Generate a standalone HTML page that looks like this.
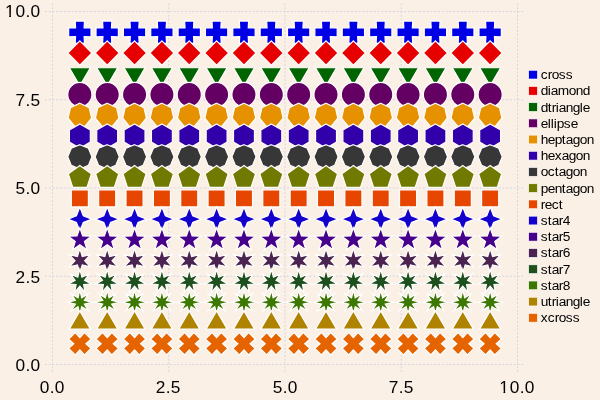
<!DOCTYPE html><html><head><meta charset="utf-8"><title>Supported markers</title><style>html,body{margin:0;padding:0;background:#FAF0E6;}body{width:600px;height:400px;overflow:hidden}svg{display:block;will-change:transform}text{font-family:"Liberation Sans",sans-serif;fill:#000}</style></head><body>
<svg width="600" height="400" viewBox="0 0 600 400">
<rect width="600" height="400" fill="#FAF0E6"/>
<g stroke="#D0D0E0" stroke-width="0.9" stroke-dasharray="1.89 1.89" fill="none">
<path d="M52.50 3.5V372.5"/>
<path d="M168.75 3.5V372.5"/>
<path d="M285.00 3.5V372.5"/>
<path d="M401.25 3.5V372.5"/>
<path d="M517.50 3.5V372.5"/>
<path d="M45 364.50H523.5"/>
<path d="M45 276.25H523.5"/>
<path d="M45 188.00H523.5"/>
<path d="M45 99.75H523.5"/>
<path d="M45 11.50H523.5"/>
</g>
<g font-size="17.3px">
<text x="39.8 49.8 54.8" y="393">0.0</text>
<text x="155.8 165.8 170.8" y="393">2.5</text>
<text x="272.7 282.7 287.7" y="393">5.0</text>
<text x="388.8 398.8 403.8" y="393">7.5</text>
<text x="499.2 509.8 519.8 524.8" y="393">10.0</text>
<path fill="#FAF0E6" d="M499.2 390.5h4.3v3h-4.3zM505.22 390.5h4v3h-4z"/>
<text x="15.5 25.5 30.5" y="371">0.0</text>
<text x="15.5 25.5 30.5" y="283">2.5</text>
<text x="15.5 25.5 30.5" y="194">5.0</text>
<text x="15.5 25.5 30.5" y="106">7.5</text>
<text x="4.9 15.5 25.5 30.5" y="17">10.0</text>
<path fill="#FAF0E6" d="M4.9 14.5h4.3v3h-4.3zM10.92 14.5h4v3h-4z"/>
</g>
<g fill="#0000E6" stroke="#ffffff" stroke-width="1.2" stroke-miterlimit="10">
<polygon points="84.48,21.09 84.13,27.99 91.03,27.63 91.03,36.90 84.13,36.54 84.48,43.44 75.22,43.44 75.57,36.54 68.67,36.90 68.67,27.63 75.57,27.99 75.22,21.09"/>
<polygon points="111.84,21.09 111.48,27.99 118.38,27.63 118.38,36.90 111.48,36.54 111.84,43.44 102.58,43.44 102.93,36.54 96.03,36.90 96.03,27.63 102.93,27.99 102.58,21.09"/>
<polygon points="139.19,21.09 138.84,27.99 145.74,27.63 145.74,36.90 138.84,36.54 139.19,43.44 129.93,43.44 130.28,36.54 123.38,36.90 123.38,27.63 130.28,27.99 129.93,21.09"/>
<polygon points="166.54,21.09 166.19,27.99 173.09,27.63 173.09,36.90 166.19,36.54 166.54,43.44 157.28,43.44 157.63,36.54 150.73,36.90 150.73,27.63 157.63,27.99 157.28,21.09"/>
<polygon points="193.90,21.09 193.54,27.99 200.44,27.63 200.44,36.90 193.54,36.54 193.90,43.44 184.63,43.44 184.99,36.54 178.09,36.90 178.09,27.63 184.99,27.99 184.63,21.09"/>
<polygon points="221.25,21.09 220.90,27.99 227.80,27.63 227.80,36.90 220.90,36.54 221.25,43.44 211.99,43.44 212.34,36.54 205.44,36.90 205.44,27.63 212.34,27.99 211.99,21.09"/>
<polygon points="248.60,21.09 248.25,27.99 255.15,27.63 255.15,36.90 248.25,36.54 248.60,43.44 239.34,43.44 239.69,36.54 232.79,36.90 232.79,27.63 239.69,27.99 239.34,21.09"/>
<polygon points="275.95,21.09 275.60,27.99 282.50,27.63 282.50,36.90 275.60,36.54 275.95,43.44 266.69,43.44 267.05,36.54 260.14,36.90 260.14,27.63 267.05,27.99 266.69,21.09"/>
<polygon points="303.31,21.09 302.95,27.99 309.86,27.63 309.86,36.90 302.95,36.54 303.31,43.44 294.05,43.44 294.40,36.54 287.50,36.90 287.50,27.63 294.40,27.99 294.05,21.09"/>
<polygon points="330.66,21.09 330.31,27.99 337.21,27.63 337.21,36.90 330.31,36.54 330.66,43.44 321.40,43.44 321.75,36.54 314.85,36.90 314.85,27.63 321.75,27.99 321.40,21.09"/>
<polygon points="358.01,21.09 357.66,27.99 364.56,27.63 364.56,36.90 357.66,36.54 358.01,43.44 348.75,43.44 349.10,36.54 342.20,36.90 342.20,27.63 349.10,27.99 348.75,21.09"/>
<polygon points="385.37,21.09 385.01,27.99 391.91,27.63 391.91,36.90 385.01,36.54 385.37,43.44 376.10,43.44 376.46,36.54 369.56,36.90 369.56,27.63 376.46,27.99 376.10,21.09"/>
<polygon points="412.72,21.09 412.37,27.99 419.27,27.63 419.27,36.90 412.37,36.54 412.72,43.44 403.46,43.44 403.81,36.54 396.91,36.90 396.91,27.63 403.81,27.99 403.46,21.09"/>
<polygon points="440.07,21.09 439.72,27.99 446.62,27.63 446.62,36.90 439.72,36.54 440.07,43.44 430.81,43.44 431.16,36.54 424.26,36.90 424.26,27.63 431.16,27.99 430.81,21.09"/>
<polygon points="467.42,21.09 467.07,27.99 473.97,27.63 473.97,36.90 467.07,36.54 467.42,43.44 458.16,43.44 458.52,36.54 451.62,36.90 451.62,27.63 458.52,27.99 458.16,21.09"/>
<polygon points="494.78,21.09 494.43,27.99 501.33,27.63 501.33,36.90 494.43,36.54 494.78,43.44 485.52,43.44 485.87,36.54 478.97,36.90 478.97,27.63 485.87,27.99 485.52,21.09"/>
</g>
<g fill="#E60000" stroke="#ffffff" stroke-width="1.2" stroke-miterlimit="10">
<polygon points="79.85,40.93 91.95,53.03 79.85,65.13 67.75,53.03"/>
<polygon points="107.21,40.93 119.31,53.03 107.21,65.13 95.11,53.03"/>
<polygon points="134.56,40.93 146.66,53.03 134.56,65.13 122.46,53.03"/>
<polygon points="161.91,40.93 174.01,53.03 161.91,65.13 149.81,53.03"/>
<polygon points="189.26,40.93 201.36,53.03 189.26,65.13 177.16,53.03"/>
<polygon points="216.62,40.93 228.72,53.03 216.62,65.13 204.52,53.03"/>
<polygon points="243.97,40.93 256.07,53.03 243.97,65.13 231.87,53.03"/>
<polygon points="271.32,40.93 283.42,53.03 271.32,65.13 259.22,53.03"/>
<polygon points="298.68,40.93 310.78,53.03 298.68,65.13 286.58,53.03"/>
<polygon points="326.03,40.93 338.13,53.03 326.03,65.13 313.93,53.03"/>
<polygon points="353.38,40.93 365.48,53.03 353.38,65.13 341.28,53.03"/>
<polygon points="380.74,40.93 392.84,53.03 380.74,65.13 368.64,53.03"/>
<polygon points="408.09,40.93 420.19,53.03 408.09,65.13 395.99,53.03"/>
<polygon points="435.44,40.93 447.54,53.03 435.44,65.13 423.34,53.03"/>
<polygon points="462.79,40.93 474.89,53.03 462.79,65.13 450.69,53.03"/>
<polygon points="490.15,40.93 502.25,53.03 490.15,65.13 478.05,53.03"/>
</g>
<g fill="#006400" stroke="#ffffff" stroke-width="1.2" stroke-miterlimit="10">
<polygon points="79.85,85.89 69.37,67.74 90.33,67.74"/>
<polygon points="107.21,85.89 96.73,67.74 117.68,67.74"/>
<polygon points="134.56,85.89 124.08,67.74 145.04,67.74"/>
<polygon points="161.91,85.89 151.43,67.74 172.39,67.74"/>
<polygon points="189.26,85.89 178.79,67.74 199.74,67.74"/>
<polygon points="216.62,85.89 206.14,67.74 227.10,67.74"/>
<polygon points="243.97,85.89 233.49,67.74 254.45,67.74"/>
<polygon points="271.32,85.89 260.84,67.74 281.80,67.74"/>
<polygon points="298.68,85.89 288.20,67.74 309.16,67.74"/>
<polygon points="326.03,85.89 315.55,67.74 336.51,67.74"/>
<polygon points="353.38,85.89 342.90,67.74 363.86,67.74"/>
<polygon points="380.74,85.89 370.26,67.74 391.21,67.74"/>
<polygon points="408.09,85.89 397.61,67.74 418.57,67.74"/>
<polygon points="435.44,85.89 424.96,67.74 445.92,67.74"/>
<polygon points="462.79,85.89 452.32,67.74 473.27,67.74"/>
<polygon points="490.15,85.89 479.67,67.74 500.63,67.74"/>
</g>
<g fill="#640064" stroke="#ffffff" stroke-width="1.2" stroke-miterlimit="10">
<circle cx="79.85" cy="94.56" r="12.1"/>
<circle cx="107.21" cy="94.56" r="12.1"/>
<circle cx="134.56" cy="94.56" r="12.1"/>
<circle cx="161.91" cy="94.56" r="12.1"/>
<circle cx="189.26" cy="94.56" r="12.1"/>
<circle cx="216.62" cy="94.56" r="12.1"/>
<circle cx="243.97" cy="94.56" r="12.1"/>
<circle cx="271.32" cy="94.56" r="12.1"/>
<circle cx="298.68" cy="94.56" r="12.1"/>
<circle cx="326.03" cy="94.56" r="12.1"/>
<circle cx="353.38" cy="94.56" r="12.1"/>
<circle cx="380.74" cy="94.56" r="12.1"/>
<circle cx="408.09" cy="94.56" r="12.1"/>
<circle cx="435.44" cy="94.56" r="12.1"/>
<circle cx="462.79" cy="94.56" r="12.1"/>
<circle cx="490.15" cy="94.56" r="12.1"/>
</g>
<g fill="#E69100" stroke="#ffffff" stroke-width="1.2" stroke-miterlimit="10">
<polygon points="79.85,103.22 89.31,107.78 91.65,118.02 85.10,126.23 74.60,126.23 68.06,118.02 70.39,107.78"/>
<polygon points="107.21,103.22 116.67,107.78 119.00,118.02 112.46,126.23 101.96,126.23 95.41,118.02 97.75,107.78"/>
<polygon points="134.56,103.22 144.02,107.78 146.36,118.02 139.81,126.23 129.31,126.23 122.76,118.02 125.10,107.78"/>
<polygon points="161.91,103.22 171.37,107.78 173.71,118.02 167.16,126.23 156.66,126.23 150.12,118.02 152.45,107.78"/>
<polygon points="189.26,103.22 198.72,107.78 201.06,118.02 194.51,126.23 184.01,126.23 177.47,118.02 179.80,107.78"/>
<polygon points="216.62,103.22 226.08,107.78 228.41,118.02 221.87,126.23 211.37,126.23 204.82,118.02 207.16,107.78"/>
<polygon points="243.97,103.22 253.43,107.78 255.77,118.02 249.22,126.23 238.72,126.23 232.17,118.02 234.51,107.78"/>
<polygon points="271.32,103.22 280.78,107.78 283.12,118.02 276.57,126.23 266.07,126.23 259.53,118.02 261.86,107.78"/>
<polygon points="298.68,103.22 308.14,107.78 310.47,118.02 303.93,126.23 293.43,126.23 286.88,118.02 289.22,107.78"/>
<polygon points="326.03,103.22 335.49,107.78 337.83,118.02 331.28,126.23 320.78,126.23 314.23,118.02 316.57,107.78"/>
<polygon points="353.38,103.22 362.84,107.78 365.18,118.02 358.63,126.23 348.13,126.23 341.59,118.02 343.92,107.78"/>
<polygon points="380.74,103.22 390.20,107.78 392.53,118.02 385.99,126.23 375.49,126.23 368.94,118.02 371.28,107.78"/>
<polygon points="408.09,103.22 417.55,107.78 419.88,118.02 413.34,126.23 402.84,126.23 396.29,118.02 398.63,107.78"/>
<polygon points="435.44,103.22 444.90,107.78 447.24,118.02 440.69,126.23 430.19,126.23 423.64,118.02 425.98,107.78"/>
<polygon points="462.79,103.22 472.25,107.78 474.59,118.02 468.04,126.23 457.54,126.23 451.00,118.02 453.33,107.78"/>
<polygon points="490.15,103.22 499.61,107.78 501.94,118.02 495.40,126.23 484.90,126.23 478.35,118.02 480.69,107.78"/>
</g>
<g fill="#3200AA" stroke="#ffffff" stroke-width="1.2" stroke-miterlimit="10">
<polygon points="79.85,123.99 90.33,130.04 90.33,142.14 79.85,148.19 69.37,142.14 69.37,130.04"/>
<polygon points="107.21,123.99 117.68,130.04 117.68,142.14 107.21,148.19 96.73,142.14 96.73,130.04"/>
<polygon points="134.56,123.99 145.04,130.04 145.04,142.14 134.56,148.19 124.08,142.14 124.08,130.04"/>
<polygon points="161.91,123.99 172.39,130.04 172.39,142.14 161.91,148.19 151.43,142.14 151.43,130.04"/>
<polygon points="189.26,123.99 199.74,130.04 199.74,142.14 189.26,148.19 178.79,142.14 178.79,130.04"/>
<polygon points="216.62,123.99 227.10,130.04 227.10,142.14 216.62,148.19 206.14,142.14 206.14,130.04"/>
<polygon points="243.97,123.99 254.45,130.04 254.45,142.14 243.97,148.19 233.49,142.14 233.49,130.04"/>
<polygon points="271.32,123.99 281.80,130.04 281.80,142.14 271.32,148.19 260.84,142.14 260.84,130.04"/>
<polygon points="298.68,123.99 309.16,130.04 309.16,142.14 298.68,148.19 288.20,142.14 288.20,130.04"/>
<polygon points="326.03,123.99 336.51,130.04 336.51,142.14 326.03,148.19 315.55,142.14 315.55,130.04"/>
<polygon points="353.38,123.99 363.86,130.04 363.86,142.14 353.38,148.19 342.90,142.14 342.90,130.04"/>
<polygon points="380.74,123.99 391.21,130.04 391.21,142.14 380.74,148.19 370.26,142.14 370.26,130.04"/>
<polygon points="408.09,123.99 418.57,130.04 418.57,142.14 408.09,148.19 397.61,142.14 397.61,130.04"/>
<polygon points="435.44,123.99 445.92,130.04 445.92,142.14 435.44,148.19 424.96,142.14 424.96,130.04"/>
<polygon points="462.79,123.99 473.27,130.04 473.27,142.14 462.79,148.19 452.32,142.14 452.32,130.04"/>
<polygon points="490.15,123.99 500.63,130.04 500.63,142.14 490.15,148.19 479.67,142.14 479.67,130.04"/>
</g>
<g fill="#373737" stroke="#ffffff" stroke-width="1.2" stroke-miterlimit="10">
<polygon points="79.85,144.75 88.41,148.30 91.95,156.85 88.41,165.41 79.85,168.95 71.30,165.41 67.75,156.85 71.30,148.30"/>
<polygon points="107.21,144.75 115.76,148.30 119.31,156.85 115.76,165.41 107.21,168.95 98.65,165.41 95.11,156.85 98.65,148.30"/>
<polygon points="134.56,144.75 143.11,148.30 146.66,156.85 143.11,165.41 134.56,168.95 126.00,165.41 122.46,156.85 126.00,148.30"/>
<polygon points="161.91,144.75 170.47,148.30 174.01,156.85 170.47,165.41 161.91,168.95 153.36,165.41 149.81,156.85 153.36,148.30"/>
<polygon points="189.26,144.75 197.82,148.30 201.36,156.85 197.82,165.41 189.26,168.95 180.71,165.41 177.16,156.85 180.71,148.30"/>
<polygon points="216.62,144.75 225.17,148.30 228.72,156.85 225.17,165.41 216.62,168.95 208.06,165.41 204.52,156.85 208.06,148.30"/>
<polygon points="243.97,144.75 252.53,148.30 256.07,156.85 252.53,165.41 243.97,168.95 235.41,165.41 231.87,156.85 235.41,148.30"/>
<polygon points="271.32,144.75 279.88,148.30 283.42,156.85 279.88,165.41 271.32,168.95 262.77,165.41 259.22,156.85 262.77,148.30"/>
<polygon points="298.68,144.75 307.23,148.30 310.78,156.85 307.23,165.41 298.68,168.95 290.12,165.41 286.58,156.85 290.12,148.30"/>
<polygon points="326.03,144.75 334.59,148.30 338.13,156.85 334.59,165.41 326.03,168.95 317.47,165.41 313.93,156.85 317.47,148.30"/>
<polygon points="353.38,144.75 361.94,148.30 365.48,156.85 361.94,165.41 353.38,168.95 344.83,165.41 341.28,156.85 344.83,148.30"/>
<polygon points="380.74,144.75 389.29,148.30 392.84,156.85 389.29,165.41 380.74,168.95 372.18,165.41 368.64,156.85 372.18,148.30"/>
<polygon points="408.09,144.75 416.64,148.30 420.19,156.85 416.64,165.41 408.09,168.95 399.53,165.41 395.99,156.85 399.53,148.30"/>
<polygon points="435.44,144.75 444.00,148.30 447.54,156.85 444.00,165.41 435.44,168.95 426.89,165.41 423.34,156.85 426.89,148.30"/>
<polygon points="462.79,144.75 471.35,148.30 474.89,156.85 471.35,165.41 462.79,168.95 454.24,165.41 450.69,156.85 454.24,148.30"/>
<polygon points="490.15,144.75 498.70,148.30 502.25,156.85 498.70,165.41 490.15,168.95 481.59,165.41 478.05,156.85 481.59,148.30"/>
</g>
<g fill="#707A00" stroke="#ffffff" stroke-width="1.2" stroke-miterlimit="10">
<polygon points="79.85,165.52 91.36,173.88 86.97,187.41 72.74,187.41 68.35,173.88"/>
<polygon points="107.21,165.52 118.71,173.88 114.32,187.41 100.09,187.41 95.70,173.88"/>
<polygon points="134.56,165.52 146.07,173.88 141.67,187.41 127.45,187.41 123.05,173.88"/>
<polygon points="161.91,165.52 173.42,173.88 169.02,187.41 154.80,187.41 150.40,173.88"/>
<polygon points="189.26,165.52 200.77,173.88 196.38,187.41 182.15,187.41 177.76,173.88"/>
<polygon points="216.62,165.52 228.13,173.88 223.73,187.41 209.51,187.41 205.11,173.88"/>
<polygon points="243.97,165.52 255.48,173.88 251.08,187.41 236.86,187.41 232.46,173.88"/>
<polygon points="271.32,165.52 282.83,173.88 278.44,187.41 264.21,187.41 259.82,173.88"/>
<polygon points="298.68,165.52 310.18,173.88 305.79,187.41 291.56,187.41 287.17,173.88"/>
<polygon points="326.03,165.52 337.54,173.88 333.14,187.41 318.92,187.41 314.52,173.88"/>
<polygon points="353.38,165.52 364.89,173.88 360.49,187.41 346.27,187.41 341.87,173.88"/>
<polygon points="380.74,165.52 392.24,173.88 387.85,187.41 373.62,187.41 369.23,173.88"/>
<polygon points="408.09,165.52 419.60,173.88 415.20,187.41 400.98,187.41 396.58,173.88"/>
<polygon points="435.44,165.52 446.95,173.88 442.55,187.41 428.33,187.41 423.93,173.88"/>
<polygon points="462.79,165.52 474.30,173.88 469.91,187.41 455.68,187.41 451.29,173.88"/>
<polygon points="490.15,165.52 501.65,173.88 497.26,187.41 483.03,187.41 478.64,173.88"/>
</g>
<g fill="#E64600" stroke="#ffffff" stroke-width="1.2" stroke-miterlimit="10">
<polygon points="88.41,189.83 88.41,206.94 71.30,206.94 71.30,189.83"/>
<polygon points="115.76,189.83 115.76,206.94 98.65,206.94 98.65,189.83"/>
<polygon points="143.11,189.83 143.11,206.94 126.00,206.94 126.00,189.83"/>
<polygon points="170.47,189.83 170.47,206.94 153.36,206.94 153.36,189.83"/>
<polygon points="197.82,189.83 197.82,206.94 180.71,206.94 180.71,189.83"/>
<polygon points="225.17,189.83 225.17,206.94 208.06,206.94 208.06,189.83"/>
<polygon points="252.53,189.83 252.53,206.94 235.41,206.94 235.41,189.83"/>
<polygon points="279.88,189.83 279.88,206.94 262.77,206.94 262.77,189.83"/>
<polygon points="307.23,189.83 307.23,206.94 290.12,206.94 290.12,189.83"/>
<polygon points="334.59,189.83 334.59,206.94 317.47,206.94 317.47,189.83"/>
<polygon points="361.94,189.83 361.94,206.94 344.83,206.94 344.83,189.83"/>
<polygon points="389.29,189.83 389.29,206.94 372.18,206.94 372.18,189.83"/>
<polygon points="416.64,189.83 416.64,206.94 399.53,206.94 399.53,189.83"/>
<polygon points="444.00,189.83 444.00,206.94 426.89,206.94 426.89,189.83"/>
<polygon points="471.35,189.83 471.35,206.94 454.24,206.94 454.24,189.83"/>
<polygon points="498.70,189.83 498.70,206.94 481.59,206.94 481.59,189.83"/>
</g>
<g fill="#1400CD" stroke="#ffffff" stroke-width="1.2" stroke-miterlimit="10">
<polygon points="79.85,207.05 83.28,215.72 91.95,219.15 83.28,222.57 79.85,231.25 76.43,222.57 67.75,219.15 76.43,215.72"/>
<polygon points="107.21,207.05 110.63,215.72 119.31,219.15 110.63,222.57 107.21,231.25 103.78,222.57 95.11,219.15 103.78,215.72"/>
<polygon points="134.56,207.05 137.98,215.72 146.66,219.15 137.98,222.57 134.56,231.25 131.14,222.57 122.46,219.15 131.14,215.72"/>
<polygon points="161.91,207.05 165.33,215.72 174.01,219.15 165.33,222.57 161.91,231.25 158.49,222.57 149.81,219.15 158.49,215.72"/>
<polygon points="189.26,207.05 192.69,215.72 201.36,219.15 192.69,222.57 189.26,231.25 185.84,222.57 177.16,219.15 185.84,215.72"/>
<polygon points="216.62,207.05 220.04,215.72 228.72,219.15 220.04,222.57 216.62,231.25 213.20,222.57 204.52,219.15 213.20,215.72"/>
<polygon points="243.97,207.05 247.39,215.72 256.07,219.15 247.39,222.57 243.97,231.25 240.55,222.57 231.87,219.15 240.55,215.72"/>
<polygon points="271.32,207.05 274.75,215.72 283.42,219.15 274.75,222.57 271.32,231.25 267.90,222.57 259.22,219.15 267.90,215.72"/>
<polygon points="298.68,207.05 302.10,215.72 310.78,219.15 302.10,222.57 298.68,231.25 295.25,222.57 286.58,219.15 295.25,215.72"/>
<polygon points="326.03,207.05 329.45,215.72 338.13,219.15 329.45,222.57 326.03,231.25 322.61,222.57 313.93,219.15 322.61,215.72"/>
<polygon points="353.38,207.05 356.80,215.72 365.48,219.15 356.80,222.57 353.38,231.25 349.96,222.57 341.28,219.15 349.96,215.72"/>
<polygon points="380.74,207.05 384.16,215.72 392.84,219.15 384.16,222.57 380.74,231.25 377.31,222.57 368.64,219.15 377.31,215.72"/>
<polygon points="408.09,207.05 411.51,215.72 420.19,219.15 411.51,222.57 408.09,231.25 404.67,222.57 395.99,219.15 404.67,215.72"/>
<polygon points="435.44,207.05 438.86,215.72 447.54,219.15 438.86,222.57 435.44,231.25 432.02,222.57 423.34,219.15 432.02,215.72"/>
<polygon points="462.79,207.05 466.22,215.72 474.89,219.15 466.22,222.57 462.79,231.25 459.37,222.57 450.69,219.15 459.37,215.72"/>
<polygon points="490.15,207.05 493.57,215.72 502.25,219.15 493.57,222.57 490.15,231.25 486.72,222.57 478.05,219.15 486.72,215.72"/>
</g>
<g fill="#46008C" stroke="#ffffff" stroke-width="1.2" stroke-miterlimit="10">
<polygon points="79.85,227.81 82.70,236.00 91.36,236.17 84.46,241.41 86.97,249.70 79.85,244.75 72.74,249.70 75.25,241.41 68.35,236.17 77.01,236.00"/>
<polygon points="107.21,227.81 110.05,236.00 118.71,236.17 111.81,241.41 114.32,249.70 107.21,244.75 100.09,249.70 102.60,241.41 95.70,236.17 104.36,236.00"/>
<polygon points="134.56,227.81 137.40,236.00 146.07,236.17 139.16,241.41 141.67,249.70 134.56,244.75 127.45,249.70 129.96,241.41 123.05,236.17 131.71,236.00"/>
<polygon points="161.91,227.81 164.76,236.00 173.42,236.17 166.51,241.41 169.02,249.70 161.91,244.75 154.80,249.70 157.31,241.41 150.40,236.17 159.07,236.00"/>
<polygon points="189.26,227.81 192.11,236.00 200.77,236.17 193.87,241.41 196.38,249.70 189.26,244.75 182.15,249.70 184.66,241.41 177.76,236.17 186.42,236.00"/>
<polygon points="216.62,227.81 219.46,236.00 228.13,236.17 221.22,241.41 223.73,249.70 216.62,244.75 209.51,249.70 212.01,241.41 205.11,236.17 213.77,236.00"/>
<polygon points="243.97,227.81 246.82,236.00 255.48,236.17 248.57,241.41 251.08,249.70 243.97,244.75 236.86,249.70 239.37,241.41 232.46,236.17 241.13,236.00"/>
<polygon points="271.32,227.81 274.17,236.00 282.83,236.17 275.93,241.41 278.44,249.70 271.32,244.75 264.21,249.70 266.72,241.41 259.82,236.17 268.48,236.00"/>
<polygon points="298.68,227.81 301.52,236.00 310.18,236.17 303.28,241.41 305.79,249.70 298.68,244.75 291.56,249.70 294.07,241.41 287.17,236.17 295.83,236.00"/>
<polygon points="326.03,227.81 328.87,236.00 337.54,236.17 330.63,241.41 333.14,249.70 326.03,244.75 318.92,249.70 321.43,241.41 314.52,236.17 323.18,236.00"/>
<polygon points="353.38,227.81 356.23,236.00 364.89,236.17 357.99,241.41 360.49,249.70 353.38,244.75 346.27,249.70 348.78,241.41 341.87,236.17 350.54,236.00"/>
<polygon points="380.74,227.81 383.58,236.00 392.24,236.17 385.34,241.41 387.85,249.70 380.74,244.75 373.62,249.70 376.13,241.41 369.23,236.17 377.89,236.00"/>
<polygon points="408.09,227.81 410.93,236.00 419.60,236.17 412.69,241.41 415.20,249.70 408.09,244.75 400.98,249.70 403.49,241.41 396.58,236.17 405.24,236.00"/>
<polygon points="435.44,227.81 438.29,236.00 446.95,236.17 440.04,241.41 442.55,249.70 435.44,244.75 428.33,249.70 430.84,241.41 423.93,236.17 432.60,236.00"/>
<polygon points="462.79,227.81 465.64,236.00 474.30,236.17 467.40,241.41 469.91,249.70 462.79,244.75 455.68,249.70 458.19,241.41 451.29,236.17 459.95,236.00"/>
<polygon points="490.15,227.81 492.99,236.00 501.65,236.17 494.75,241.41 497.26,249.70 490.15,244.75 483.03,249.70 485.54,241.41 478.64,236.17 487.30,236.00"/>
</g>
<g fill="#4B2350" stroke="#ffffff" stroke-width="1.2" stroke-miterlimit="10">
<polygon points="79.85,248.58 82.27,256.48 90.33,254.63 84.69,260.68 90.33,266.73 82.27,264.87 79.85,272.78 77.43,264.87 69.37,266.73 75.01,260.68 69.37,254.63 77.43,256.48"/>
<polygon points="107.21,248.58 109.63,256.48 117.68,254.63 112.05,260.68 117.68,266.73 109.63,264.87 107.21,272.78 104.79,264.87 96.73,266.73 102.37,260.68 96.73,254.63 104.79,256.48"/>
<polygon points="134.56,248.58 136.98,256.48 145.04,254.63 139.40,260.68 145.04,266.73 136.98,264.87 134.56,272.78 132.14,264.87 124.08,266.73 129.72,260.68 124.08,254.63 132.14,256.48"/>
<polygon points="161.91,248.58 164.33,256.48 172.39,254.63 166.75,260.68 172.39,266.73 164.33,264.87 161.91,272.78 159.49,264.87 151.43,266.73 157.07,260.68 151.43,254.63 159.49,256.48"/>
<polygon points="189.26,248.58 191.68,256.48 199.74,254.63 194.10,260.68 199.74,266.73 191.68,264.87 189.26,272.78 186.84,264.87 178.79,266.73 184.42,260.68 178.79,254.63 186.84,256.48"/>
<polygon points="216.62,248.58 219.04,256.48 227.10,254.63 221.46,260.68 227.10,266.73 219.04,264.87 216.62,272.78 214.20,264.87 206.14,266.73 211.78,260.68 206.14,254.63 214.20,256.48"/>
<polygon points="243.97,248.58 246.39,256.48 254.45,254.63 248.81,260.68 254.45,266.73 246.39,264.87 243.97,272.78 241.55,264.87 233.49,266.73 239.13,260.68 233.49,254.63 241.55,256.48"/>
<polygon points="271.32,248.58 273.74,256.48 281.80,254.63 276.16,260.68 281.80,266.73 273.74,264.87 271.32,272.78 268.90,264.87 260.84,266.73 266.48,260.68 260.84,254.63 268.90,256.48"/>
<polygon points="298.68,248.58 301.10,256.48 309.16,254.63 303.52,260.68 309.16,266.73 301.10,264.87 298.68,272.78 296.26,264.87 288.20,266.73 293.84,260.68 288.20,254.63 296.26,256.48"/>
<polygon points="326.03,248.58 328.45,256.48 336.51,254.63 330.87,260.68 336.51,266.73 328.45,264.87 326.03,272.78 323.61,264.87 315.55,266.73 321.19,260.68 315.55,254.63 323.61,256.48"/>
<polygon points="353.38,248.58 355.80,256.48 363.86,254.63 358.22,260.68 363.86,266.73 355.80,264.87 353.38,272.78 350.96,264.87 342.90,266.73 348.54,260.68 342.90,254.63 350.96,256.48"/>
<polygon points="380.74,248.58 383.16,256.48 391.21,254.63 385.58,260.68 391.21,266.73 383.16,264.87 380.74,272.78 378.32,264.87 370.26,266.73 375.90,260.68 370.26,254.63 378.32,256.48"/>
<polygon points="408.09,248.58 410.51,256.48 418.57,254.63 412.93,260.68 418.57,266.73 410.51,264.87 408.09,272.78 405.67,264.87 397.61,266.73 403.25,260.68 397.61,254.63 405.67,256.48"/>
<polygon points="435.44,248.58 437.86,256.48 445.92,254.63 440.28,260.68 445.92,266.73 437.86,264.87 435.44,272.78 433.02,264.87 424.96,266.73 430.60,260.68 424.96,254.63 433.02,256.48"/>
<polygon points="462.79,248.58 465.21,256.48 473.27,254.63 467.63,260.68 473.27,266.73 465.21,264.87 462.79,272.78 460.37,264.87 452.32,266.73 457.95,260.68 452.32,254.63 460.37,256.48"/>
<polygon points="490.15,248.58 492.57,256.48 500.63,254.63 494.99,260.68 500.63,266.73 492.57,264.87 490.15,272.78 487.73,264.87 479.67,266.73 485.31,260.68 479.67,254.63 487.73,256.48"/>
</g>
<g fill="#1E501E" stroke="#ffffff" stroke-width="1.2" stroke-miterlimit="10">
<polygon points="79.85,269.34 81.95,277.08 89.31,273.90 84.57,280.36 91.65,284.13 83.64,284.46 85.10,292.34 79.85,286.28 74.60,292.34 76.07,284.46 68.06,284.13 75.13,280.36 70.39,273.90 77.75,277.08"/>
<polygon points="107.21,269.34 109.31,277.08 116.67,273.90 111.92,280.36 119.00,284.13 110.99,284.46 112.46,292.34 107.21,286.28 101.96,292.34 103.42,284.46 95.41,284.13 102.49,280.36 97.75,273.90 105.11,277.08"/>
<polygon points="134.56,269.34 136.66,277.08 144.02,273.90 139.28,280.36 146.36,284.13 138.34,284.46 139.81,292.34 134.56,286.28 129.31,292.34 130.77,284.46 122.76,284.13 129.84,280.36 125.10,273.90 132.46,277.08"/>
<polygon points="161.91,269.34 164.01,277.08 171.37,273.90 166.63,280.36 173.71,284.13 165.70,284.46 167.16,292.34 161.91,286.28 156.66,292.34 158.13,284.46 150.12,284.13 157.19,280.36 152.45,273.90 159.81,277.08"/>
<polygon points="189.26,269.34 191.36,277.08 198.72,273.90 193.98,280.36 201.06,284.13 193.05,284.46 194.51,292.34 189.26,286.28 184.01,292.34 185.48,284.46 177.47,284.13 184.55,280.36 179.80,273.90 187.16,277.08"/>
<polygon points="216.62,269.34 218.72,277.08 226.08,273.90 221.34,280.36 228.41,284.13 220.40,284.46 221.87,292.34 216.62,286.28 211.37,292.34 212.83,284.46 204.82,284.13 211.90,280.36 207.16,273.90 214.52,277.08"/>
<polygon points="243.97,269.34 246.07,277.08 253.43,273.90 248.69,280.36 255.77,284.13 247.75,284.46 249.22,292.34 243.97,286.28 238.72,292.34 240.19,284.46 232.17,284.13 239.25,280.36 234.51,273.90 241.87,277.08"/>
<polygon points="271.32,269.34 273.42,277.08 280.78,273.90 276.04,280.36 283.12,284.13 275.11,284.46 276.57,292.34 271.32,286.28 266.07,292.34 267.54,284.46 259.53,284.13 266.60,280.36 261.86,273.90 269.22,277.08"/>
<polygon points="298.68,269.34 300.78,277.08 308.14,273.90 303.40,280.36 310.47,284.13 302.46,284.46 303.93,292.34 298.68,286.28 293.43,292.34 294.89,284.46 286.88,284.13 293.96,280.36 289.22,273.90 296.58,277.08"/>
<polygon points="326.03,269.34 328.13,277.08 335.49,273.90 330.75,280.36 337.83,284.13 329.81,284.46 331.28,292.34 326.03,286.28 320.78,292.34 322.25,284.46 314.23,284.13 321.31,280.36 316.57,273.90 323.93,277.08"/>
<polygon points="353.38,269.34 355.48,277.08 362.84,273.90 358.10,280.36 365.18,284.13 357.17,284.46 358.63,292.34 353.38,286.28 348.13,292.34 349.60,284.46 341.59,284.13 348.66,280.36 343.92,273.90 351.28,277.08"/>
<polygon points="380.74,269.34 382.84,277.08 390.20,273.90 385.45,280.36 392.53,284.13 384.52,284.46 385.99,292.34 380.74,286.28 375.49,292.34 376.95,284.46 368.94,284.13 376.02,280.36 371.28,273.90 378.64,277.08"/>
<polygon points="408.09,269.34 410.19,277.08 417.55,273.90 412.81,280.36 419.88,284.13 411.87,284.46 413.34,292.34 408.09,286.28 402.84,292.34 404.30,284.46 396.29,284.13 403.37,280.36 398.63,273.90 405.99,277.08"/>
<polygon points="435.44,269.34 437.54,277.08 444.90,273.90 440.16,280.36 447.24,284.13 439.23,284.46 440.69,292.34 435.44,286.28 430.19,292.34 431.66,284.46 423.64,284.13 430.72,280.36 425.98,273.90 433.34,277.08"/>
<polygon points="462.79,269.34 464.89,277.08 472.25,273.90 467.51,280.36 474.59,284.13 466.58,284.46 468.04,292.34 462.79,286.28 457.54,292.34 459.01,284.46 451.00,284.13 458.08,280.36 453.33,273.90 460.69,277.08"/>
<polygon points="490.15,269.34 492.25,277.08 499.61,273.90 494.87,280.36 501.94,284.13 493.93,284.46 495.40,292.34 490.15,286.28 484.90,292.34 486.36,284.46 478.35,284.13 485.43,280.36 480.69,273.90 488.05,277.08"/>
</g>
<g fill="#3C7800" stroke="#ffffff" stroke-width="1.2" stroke-miterlimit="10">
<polygon points="79.85,290.11 81.71,297.73 88.41,293.65 84.32,300.35 91.95,302.21 84.32,304.06 88.41,310.76 81.71,306.68 79.85,314.31 78.00,306.68 71.30,310.76 75.38,304.06 67.75,302.21 75.38,300.35 71.30,293.65 78.00,297.73"/>
<polygon points="107.21,290.11 109.06,297.73 115.76,293.65 111.68,300.35 119.31,302.21 111.68,304.06 115.76,310.76 109.06,306.68 107.21,314.31 105.35,306.68 98.65,310.76 102.73,304.06 95.11,302.21 102.73,300.35 98.65,293.65 105.35,297.73"/>
<polygon points="134.56,290.11 136.41,297.73 143.11,293.65 139.03,300.35 146.66,302.21 139.03,304.06 143.11,310.76 136.41,306.68 134.56,314.31 132.71,306.68 126.00,310.76 130.09,304.06 122.46,302.21 130.09,300.35 126.00,293.65 132.71,297.73"/>
<polygon points="161.91,290.11 163.76,297.73 170.47,293.65 166.38,300.35 174.01,302.21 166.38,304.06 170.47,310.76 163.76,306.68 161.91,314.31 160.06,306.68 153.36,310.76 157.44,304.06 149.81,302.21 157.44,300.35 153.36,293.65 160.06,297.73"/>
<polygon points="189.26,290.11 191.12,297.73 197.82,293.65 193.74,300.35 201.36,302.21 193.74,304.06 197.82,310.76 191.12,306.68 189.26,314.31 187.41,306.68 180.71,310.76 184.79,304.06 177.16,302.21 184.79,300.35 180.71,293.65 187.41,297.73"/>
<polygon points="216.62,290.11 218.47,297.73 225.17,293.65 221.09,300.35 228.72,302.21 221.09,304.06 225.17,310.76 218.47,306.68 216.62,314.31 214.77,306.68 208.06,310.76 212.15,304.06 204.52,302.21 212.15,300.35 208.06,293.65 214.77,297.73"/>
<polygon points="243.97,290.11 245.82,297.73 252.53,293.65 248.44,300.35 256.07,302.21 248.44,304.06 252.53,310.76 245.82,306.68 243.97,314.31 242.12,306.68 235.41,310.76 239.50,304.06 231.87,302.21 239.50,300.35 235.41,293.65 242.12,297.73"/>
<polygon points="271.32,290.11 273.18,297.73 279.88,293.65 275.80,300.35 283.42,302.21 275.80,304.06 279.88,310.76 273.18,306.68 271.32,314.31 269.47,306.68 262.77,310.76 266.85,304.06 259.22,302.21 266.85,300.35 262.77,293.65 269.47,297.73"/>
<polygon points="298.68,290.11 300.53,297.73 307.23,293.65 303.15,300.35 310.78,302.21 303.15,304.06 307.23,310.76 300.53,306.68 298.68,314.31 296.82,306.68 290.12,310.76 294.20,304.06 286.58,302.21 294.20,300.35 290.12,293.65 296.82,297.73"/>
<polygon points="326.03,290.11 327.88,297.73 334.59,293.65 330.50,300.35 338.13,302.21 330.50,304.06 334.59,310.76 327.88,306.68 326.03,314.31 324.18,306.68 317.47,310.76 321.56,304.06 313.93,302.21 321.56,300.35 317.47,293.65 324.18,297.73"/>
<polygon points="353.38,290.11 355.23,297.73 361.94,293.65 357.85,300.35 365.48,302.21 357.85,304.06 361.94,310.76 355.23,306.68 353.38,314.31 351.53,306.68 344.83,310.76 348.91,304.06 341.28,302.21 348.91,300.35 344.83,293.65 351.53,297.73"/>
<polygon points="380.74,290.11 382.59,297.73 389.29,293.65 385.21,300.35 392.84,302.21 385.21,304.06 389.29,310.76 382.59,306.68 380.74,314.31 378.88,306.68 372.18,310.76 376.26,304.06 368.64,302.21 376.26,300.35 372.18,293.65 378.88,297.73"/>
<polygon points="408.09,290.11 409.94,297.73 416.64,293.65 412.56,300.35 420.19,302.21 412.56,304.06 416.64,310.76 409.94,306.68 408.09,314.31 406.24,306.68 399.53,310.76 403.62,304.06 395.99,302.21 403.62,300.35 399.53,293.65 406.24,297.73"/>
<polygon points="435.44,290.11 437.29,297.73 444.00,293.65 439.91,300.35 447.54,302.21 439.91,304.06 444.00,310.76 437.29,306.68 435.44,314.31 433.59,306.68 426.89,310.76 430.97,304.06 423.34,302.21 430.97,300.35 426.89,293.65 433.59,297.73"/>
<polygon points="462.79,290.11 464.65,297.73 471.35,293.65 467.27,300.35 474.89,302.21 467.27,304.06 471.35,310.76 464.65,306.68 462.79,314.31 460.94,306.68 454.24,310.76 458.32,304.06 450.69,302.21 458.32,300.35 454.24,293.65 460.94,297.73"/>
<polygon points="490.15,290.11 492.00,297.73 498.70,293.65 494.62,300.35 502.25,302.21 494.62,304.06 498.70,310.76 492.00,306.68 490.15,314.31 488.29,306.68 481.59,310.76 485.68,304.06 478.05,302.21 485.68,300.35 481.59,293.65 488.29,297.73"/>
</g>
<g fill="#AF8200" stroke="#ffffff" stroke-width="1.2" stroke-miterlimit="10">
<polygon points="79.85,310.87 90.33,329.02 69.37,329.02"/>
<polygon points="107.21,310.87 117.68,329.02 96.73,329.02"/>
<polygon points="134.56,310.87 145.04,329.02 124.08,329.02"/>
<polygon points="161.91,310.87 172.39,329.02 151.43,329.02"/>
<polygon points="189.26,310.87 199.74,329.02 178.79,329.02"/>
<polygon points="216.62,310.87 227.10,329.02 206.14,329.02"/>
<polygon points="243.97,310.87 254.45,329.02 233.49,329.02"/>
<polygon points="271.32,310.87 281.80,329.02 260.84,329.02"/>
<polygon points="298.68,310.87 309.16,329.02 288.20,329.02"/>
<polygon points="326.03,310.87 336.51,329.02 315.55,329.02"/>
<polygon points="353.38,310.87 363.86,329.02 342.90,329.02"/>
<polygon points="380.74,310.87 391.21,329.02 370.26,329.02"/>
<polygon points="408.09,310.87 418.57,329.02 397.61,329.02"/>
<polygon points="435.44,310.87 445.92,329.02 424.96,329.02"/>
<polygon points="462.79,310.87 473.27,329.02 452.32,329.02"/>
<polygon points="490.15,310.87 500.63,329.02 479.67,329.02"/>
</g>
<g fill="#E66400" stroke="#ffffff" stroke-width="1.2" stroke-miterlimit="10">
<polygon points="75.22,332.56 79.85,337.69 84.48,332.56 91.03,339.10 85.90,343.74 91.03,348.37 84.48,354.91 79.85,349.79 75.22,354.91 68.67,348.37 73.80,343.74 68.67,339.10"/>
<polygon points="102.58,332.56 107.21,337.69 111.84,332.56 118.38,339.10 113.26,343.74 118.38,348.37 111.84,354.91 107.21,349.79 102.58,354.91 96.03,348.37 101.16,343.74 96.03,339.10"/>
<polygon points="129.93,332.56 134.56,337.69 139.19,332.56 145.74,339.10 140.61,343.74 145.74,348.37 139.19,354.91 134.56,349.79 129.93,354.91 123.38,348.37 128.51,343.74 123.38,339.10"/>
<polygon points="157.28,332.56 161.91,337.69 166.54,332.56 173.09,339.10 167.96,343.74 173.09,348.37 166.54,354.91 161.91,349.79 157.28,354.91 150.73,348.37 155.86,343.74 150.73,339.10"/>
<polygon points="184.63,332.56 189.26,337.69 193.90,332.56 200.44,339.10 195.31,343.74 200.44,348.37 193.90,354.91 189.26,349.79 184.63,354.91 178.09,348.37 183.21,343.74 178.09,339.10"/>
<polygon points="211.99,332.56 216.62,337.69 221.25,332.56 227.80,339.10 222.67,343.74 227.80,348.37 221.25,354.91 216.62,349.79 211.99,354.91 205.44,348.37 210.57,343.74 205.44,339.10"/>
<polygon points="239.34,332.56 243.97,337.69 248.60,332.56 255.15,339.10 250.02,343.74 255.15,348.37 248.60,354.91 243.97,349.79 239.34,354.91 232.79,348.37 237.92,343.74 232.79,339.10"/>
<polygon points="266.69,332.56 271.32,337.69 275.95,332.56 282.50,339.10 277.37,343.74 282.50,348.37 275.95,354.91 271.32,349.79 266.69,354.91 260.14,348.37 265.27,343.74 260.14,339.10"/>
<polygon points="294.05,332.56 298.68,337.69 303.31,332.56 309.86,339.10 304.73,343.74 309.86,348.37 303.31,354.91 298.68,349.79 294.05,354.91 287.50,348.37 292.63,343.74 287.50,339.10"/>
<polygon points="321.40,332.56 326.03,337.69 330.66,332.56 337.21,339.10 332.08,343.74 337.21,348.37 330.66,354.91 326.03,349.79 321.40,354.91 314.85,348.37 319.98,343.74 314.85,339.10"/>
<polygon points="348.75,332.56 353.38,337.69 358.01,332.56 364.56,339.10 359.43,343.74 364.56,348.37 358.01,354.91 353.38,349.79 348.75,354.91 342.20,348.37 347.33,343.74 342.20,339.10"/>
<polygon points="376.10,332.56 380.74,337.69 385.37,332.56 391.91,339.10 386.79,343.74 391.91,348.37 385.37,354.91 380.74,349.79 376.10,354.91 369.56,348.37 374.69,343.74 369.56,339.10"/>
<polygon points="403.46,332.56 408.09,337.69 412.72,332.56 419.27,339.10 414.14,343.74 419.27,348.37 412.72,354.91 408.09,349.79 403.46,354.91 396.91,348.37 402.04,343.74 396.91,339.10"/>
<polygon points="430.81,332.56 435.44,337.69 440.07,332.56 446.62,339.10 441.49,343.74 446.62,348.37 440.07,354.91 435.44,349.79 430.81,354.91 424.26,348.37 429.39,343.74 424.26,339.10"/>
<polygon points="458.16,332.56 462.79,337.69 467.42,332.56 473.97,339.10 468.84,343.74 473.97,348.37 467.42,354.91 462.79,349.79 458.16,354.91 451.62,348.37 456.74,343.74 451.62,339.10"/>
<polygon points="485.52,332.56 490.15,337.69 494.78,332.56 501.33,339.10 496.20,343.74 501.33,348.37 494.78,354.91 490.15,349.79 485.52,354.91 478.97,348.37 484.10,343.74 478.97,339.10"/>
</g>
<g font-size="13.7px">
<rect x="528.7" y="70.30" width="8.7" height="8.7" fill="#0000E6" stroke="#ffffff" stroke-width="0.6"/>
<text x="540.8 547.8 551.8 558.8 565.8" y="79.10">cross</text>
<rect x="528.7" y="86.51" width="8.7" height="8.7" fill="#E60000" stroke="#ffffff" stroke-width="0.6"/>
<text x="540.8 547.8 550.8 557.8 568.8 575.8 582.8" y="95.31">diamond</text>
<rect x="528.7" y="102.72" width="8.7" height="8.7" fill="#006400" stroke="#ffffff" stroke-width="0.6"/>
<text x="540.8 547.8 551.8 555.8 558.8 565.8 572.8 579.8 582.8" y="111.52">dtriangle</text>
<rect x="528.7" y="118.93" width="8.7" height="8.7" fill="#640064" stroke="#ffffff" stroke-width="0.6"/>
<text x="540.8 547.8 550.8 553.8 556.8 563.8 570.8" y="127.73">ellipse</text>
<rect x="528.7" y="135.14" width="8.7" height="8.7" fill="#E69100" stroke="#ffffff" stroke-width="0.6"/>
<text x="540.8 547.8 554.8 561.8 565.8 572.8 579.8 586.8" y="143.94">heptagon</text>
<rect x="528.7" y="151.35" width="8.7" height="8.7" fill="#3200AA" stroke="#ffffff" stroke-width="0.6"/>
<text x="540.8 547.8 554.8 561.8 568.8 575.8 582.8" y="160.15">hexagon</text>
<rect x="528.7" y="167.56" width="8.7" height="8.7" fill="#373737" stroke="#ffffff" stroke-width="0.6"/>
<text x="540.8 547.8 554.8 558.8 565.8 572.8 579.8" y="176.36">octagon</text>
<rect x="528.7" y="183.77" width="8.7" height="8.7" fill="#707A00" stroke="#ffffff" stroke-width="0.6"/>
<text x="540.8 547.8 554.8 561.8 565.8 572.8 579.8 586.8" y="192.57">pentagon</text>
<rect x="528.7" y="199.98" width="8.7" height="8.7" fill="#E64600" stroke="#ffffff" stroke-width="0.6"/>
<text x="540.8 544.8 551.8 558.8" y="208.78">rect</text>
<rect x="528.7" y="216.19" width="8.7" height="8.7" fill="#1400CD" stroke="#ffffff" stroke-width="0.6"/>
<text x="540.8 547.8 551.8 558.8 562.8" y="224.99">star4</text>
<rect x="528.7" y="232.40" width="8.7" height="8.7" fill="#46008C" stroke="#ffffff" stroke-width="0.6"/>
<text x="540.8 547.8 551.8 558.8 562.8" y="241.20">star5</text>
<rect x="528.7" y="248.61" width="8.7" height="8.7" fill="#4B2350" stroke="#ffffff" stroke-width="0.6"/>
<text x="540.8 547.8 551.8 558.8 562.8" y="257.41">star6</text>
<rect x="528.7" y="264.82" width="8.7" height="8.7" fill="#1E501E" stroke="#ffffff" stroke-width="0.6"/>
<text x="540.8 547.8 551.8 558.8 562.8" y="273.62">star7</text>
<rect x="528.7" y="281.03" width="8.7" height="8.7" fill="#3C7800" stroke="#ffffff" stroke-width="0.6"/>
<text x="540.8 547.8 551.8 558.8 562.8" y="289.83">star8</text>
<rect x="528.7" y="297.24" width="8.7" height="8.7" fill="#AF8200" stroke="#ffffff" stroke-width="0.6"/>
<text x="540.8 547.8 551.8 555.8 558.8 565.8 572.8 579.8 582.8" y="306.04">utriangle</text>
<rect x="528.7" y="313.45" width="8.7" height="8.7" fill="#E66400" stroke="#ffffff" stroke-width="0.6"/>
<text x="540.8 547.8 554.8 558.8 565.8 572.8" y="322.25">xcross</text>
</g>
</svg></body></html>
